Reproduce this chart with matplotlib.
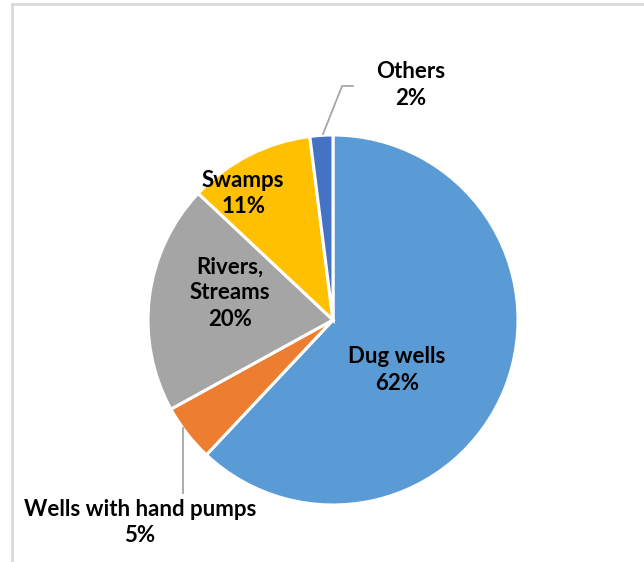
import matplotlib
matplotlib.use("Agg")
import matplotlib.pyplot as plt
from matplotlib.lines import Line2D

categories = ["Dug wells", "Wells with hand pumps", "Rivers,\nStreams", "Swamps", "Others"]
shares = [62, 5, 20, 11, 2]
colors = ["#5B9BD5", "#ED7D31", "#A5A5A5", "#FFC000", "#4472C4"]

# label centres in pie-radius units
label_pos = [(0.346, -0.27), (-1.043, -1.097), (-0.557, 0.146), (-0.486, 0.686), (0.422, 1.27)]

plt.rcParams['font.family'] = ['Lato', 'DejaVu Sans']

fig = plt.figure(figsize=(6.44, 5.62), dpi=100)
ax = fig.add_axes([0, 0, 1, 1])

ax.pie(shares, colors=colors, startangle=90, counterclock=False, radius=1,
       wedgeprops=dict(edgecolor='white', linewidth=2.2))
ax.set_aspect('auto')
ax.set_xlim(-333 / 185, 311 / 185)
ax.set_ylim(-242 / 185, 320 / 185)
ax.axis('off')

for name, val, (x, y) in zip(categories, shares, label_pos):
    ax.text(x, y, f"{name}\n{val}%", ha='center', va='center', fontsize=16,
            fontweight='bold', color='black', linespacing=1.3)

# leader lines
ax.plot([-0.054, 0.049, 0.108], [1.005, 1.265, 1.265], color='#A6A6A6', lw=1.3)
ax.plot([-0.811, -0.811], [-0.584, -0.935], color='#A6A6A6', lw=1.3)

# chart area border (partially cropped)
fig.add_artist(Line2D([12 / 644, 12 / 644], [0, 1 - 4 / 562], color='#D9D9D9', lw=2, transform=fig.transFigure))
fig.add_artist(Line2D([12 / 644, 1], [1 - 4 / 562, 1 - 4 / 562], color='#D9D9D9', lw=2, transform=fig.transFigure))

fig.savefig("out.png", dpi=100, facecolor='white')
